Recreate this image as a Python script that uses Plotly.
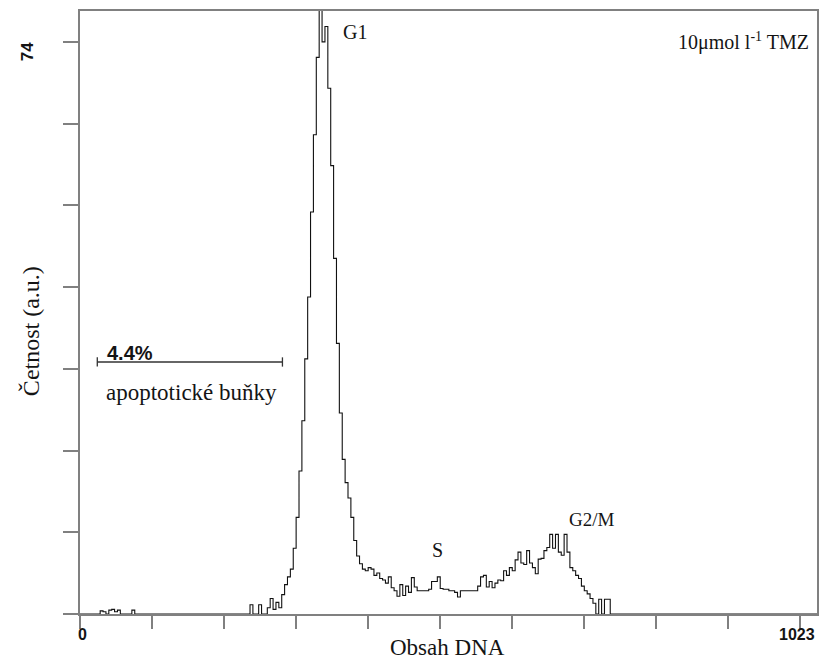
import plotly.graph_objects as go

# ---- data (channel starts, bin width 4) ----
bin_width = 4
early_channels = [28, 32, 40, 44, 48, 52, 72, 236, 248, 260, 264, 268, 272]
early_counts = [0.4, 0.3, 0.5, 0.6, 0.3, 0.5, 0.5, 1.2, 1.2, 0.8, 2.0, 0.6, 1.5]

main_start = 276
main_counts = [
    0.8, 2.5, 3.8, 4.8, 5.8, 8.5, 12.5, 18.5, 25, 33, 41, 52, 62, 72, 78.5, 74,
    76, 68, 58, 46, 35, 26, 20, 17, 15, 12.5, 9.5, 7.5, 6.5, 5.8, 5.6, 6.0,
    5.8, 5.0, 5.3, 4.6, 4.4, 4.0, 4.8, 3.4, 3.0, 2.3, 3.8, 2.4, 3.6, 2.8, 4.7, 3.5,
    3.0, 3.0, 3.0, 3.0, 3.2, 4.2, 4.2, 4.8, 3.3, 3.2, 3.2, 3.0, 3.0, 2.8, 2.2, 3.0,
    3.0, 3.0, 3.0, 3.0, 3.0, 3.6, 4.8, 5.0, 3.5, 4.2, 3.4, 4.0, 4.4, 4.3, 5.6, 5.0,
    6.0, 5.6, 7.0, 8.0, 6.6, 6.4, 8.2, 6.6, 6.0, 5.2, 7.1, 7.2, 8.2, 8.6, 10.3, 8.5,
    10.3, 8.0, 7.6, 10.3, 8.0, 6.0, 5.6, 5.0, 4.6, 3.6, 3.0, 2.6, 2.0, 1.4, 0.0, 1.9,
    0.0, 1.9, 1.9, 0.0,
]

x_ticks = [0, 100, 200, 300, 400, 500, 600, 700, 800, 900, 1000]
y_ticks = [0, 10.57, 21.14, 31.71, 42.29, 52.86, 63.43, 74]
x_range = [0, 1023]
y_range = [0, 78]

gate_range = [24, 281]
gate_level = 32.6
gate_label = "4.4%"

# ---- build histogram series ----
counts = {c: 0.0 for c in range(0, 1024, bin_width)}
for c, v in zip(early_channels, early_counts):
    counts[c] = v
for i, v in enumerate(main_counts):
    counts[main_start + i * bin_width] = v
xs = sorted(counts)
ys = [counts[c] for c in xs]
xs = xs + [1023]
ys = ys + [ys[-1]]

serif = "Liberation Serif"
sans = "Liberation Sans"
txt = "#141414"
axis_col = "#808080"

fig = go.Figure()
fig.add_trace(go.Scatter(x=xs, y=ys, mode="lines", line=dict(color="#111111", width=1.1, shape="hv"),
                         hoverinfo="skip", showlegend=False))

# gate bar
cap = 0.6
fig.add_trace(go.Scatter(
    x=[gate_range[0], gate_range[0], None, gate_range[0], gate_range[1], None, gate_range[1], gate_range[1]],
    y=[gate_level - cap, gate_level + cap, None, gate_level, gate_level, None, gate_level - cap, gate_level + cap],
    mode="lines", line=dict(color="#333333", width=1.3), hoverinfo="skip", showlegend=False))

fig.update_layout(
    width=825, height=667,
    margin=dict(l=80, r=6, t=11, b=53),
    paper_bgcolor="white", plot_bgcolor="white",
    showlegend=False,
    xaxis=dict(range=x_range, tickvals=x_ticks, showticklabels=False, ticks="outside", ticklen=13,
               tickwidth=2, tickcolor=axis_col, showline=True, linecolor=axis_col, linewidth=2,
               mirror=True, showgrid=False, zeroline=False, fixedrange=True),
    yaxis=dict(range=y_range, tickvals=y_ticks, showticklabels=False, ticks="outside", ticklen=15,
               tickwidth=2, tickcolor=axis_col, showline=True, linecolor=axis_col, linewidth=2,
               mirror=True, showgrid=False, zeroline=False, fixedrange=True),
)

ann = []
def add(text, x, y, xref="paper", yref="paper", size=17, font=serif, xanchor="center", yanchor="middle",
        angle=0, bold=False):
    t = f"<b>{text}</b>" if bold else text
    ann.append(dict(text=t, x=x, y=y, xref=xref, yref=yref, showarrow=False, xanchor=xanchor,
                    yanchor=yanchor, textangle=angle, font=dict(family=font, size=size, color=txt)))

# positions given in pixel coordinates of the 825x667 canvas, converted below
add("G1", 342, 32, size=20, xanchor="left")
add("S", 438, 550, size=20)
add("G2/M", 593, 519, size=19)
add("apoptotické buňky", 192, 392, size=23)
add(gate_label, 105, 353, font=sans, size=20, xanchor="left", bold=True)
add("10μmol l<sup>-1</sup> TMZ", 813, 42, size=20, xanchor="right")
add("Četnost (a.u.)", 31, 331, size=24, angle=-90)
add("Obsah DNA", 448, 647, size=23)
add("74", 27, 52, font=sans, size=17, angle=-90, bold=True)
add("0", 83, 634, font=sans, size=16, bold=True)
add("1023", 819, 634, font=sans, size=16, xanchor="right", bold=True)

pw, ph = 825 - 80 - 6, 667 - 11 - 53
for a in ann:
    a["x"] = (a["x"] - 80) / pw
    a["y"] = (667 - 53 - a["y"]) / ph
fig.update_layout(annotations=ann)

fig.write_html("out.html")
